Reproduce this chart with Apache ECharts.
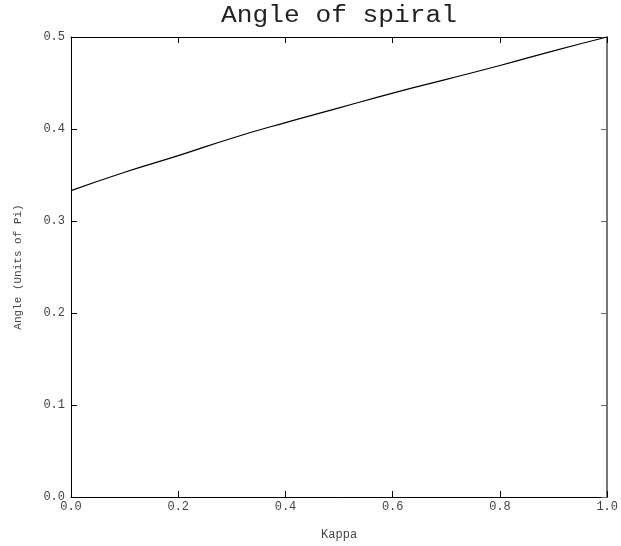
<!DOCTYPE html>
<html>
<head>
<meta charset="utf-8">
<script src="https://cdn.jsdelivr.net/npm/echarts@6/dist/echarts.min.js"></script>
<style>
  html, body { margin: 0; padding: 0; background: #fff; }
  #chart { width: 621px; height: 546px; }
</style>
</head>
<body>
<div id="chart"></div>
<script>
// Spiral angle (in units of pi) as a function of kappa
const kappa = [0.0, 0.1, 0.2, 0.3, 0.4, 0.5, 0.6, 0.7, 0.8, 0.9, 1.0];
const angle = [0.333, 0.353, 0.371, 0.390, 0.407, 0.423, 0.439, 0.454, 0.469, 0.485, 0.500];

const xTicks = ['0.0', '0.2', '0.4', '0.6', '0.8', '1.0'];
const yTicks = ['0.0', '0.1', '0.2', '0.3', '0.4', '0.5'];

const mono = 'Liberation Mono';
const chart = echarts.init(document.getElementById('chart'));

const tickStyle = { show: true, inside: true, length: 6, lineStyle: { color: '#000', width: 1 } };
const labelColor = '#444';

chart.setOption({
  animation: false,
  graphic: [
    {
      // widened title text
      type: 'text',
      x: 339, y: 4,
      scaleX: 1.14,
      style: {
        text: 'Angle of spiral',
        font: '23px "Liberation Mono"',
        fill: '#222',
        textAlign: 'center',
        textVerticalAlign: 'top'
      }
    }
  ],
  grid: { left: 71, right: 10, top: 37, bottom: 45 },
  xAxis: [
    {
      type: 'value', min: 0, max: 1, interval: 0.2, position: 'bottom',
      name: 'Kappa', nameLocation: 'middle', nameGap: 32,
      nameTextStyle: { fontFamily: mono, fontSize: 12, color: labelColor },
      axisLine: { show: true, onZero: false, lineStyle: { color: '#000', width: 1 } },
      axisTick: tickStyle,
      axisLabel: {
        fontFamily: mono, fontSize: 12, color: labelColor, margin: 4,
        formatter: (v) => xTicks[Math.round(v / 0.2)]
      },
      splitLine: { show: false }
    },
    {
      type: 'value', min: 0, max: 1, interval: 0.2, position: 'top',
      axisLine: { show: true, onZero: false, lineStyle: { color: '#000', width: 1 } },
      axisTick: tickStyle,
      axisLabel: { show: false },
      splitLine: { show: false }
    }
  ],
  yAxis: [
    {
      type: 'value', min: 0, max: 0.5, interval: 0.1, position: 'left',
      name: 'Angle (Units of Pi)', nameLocation: 'middle', nameGap: 47, nameRotate: 90,
      nameTextStyle: { fontFamily: mono, fontSize: 11, color: labelColor },
      axisLine: { show: true, onZero: false, lineStyle: { color: '#000', width: 1 } },
      axisTick: tickStyle,
      axisLabel: {
        fontFamily: mono, fontSize: 12, color: labelColor, margin: 6,
        formatter: (v) => yTicks[Math.round(v / 0.1)]
      },
      splitLine: { show: false }
    },
    {
      type: 'value', min: 0, max: 0.5, interval: 0.1, position: 'right',
      axisLine: { show: true, onZero: false, lineStyle: { color: '#777', width: 2 } },
      axisTick: { show: true, inside: true, length: 6, lineStyle: { color: '#666', width: 1 } },
      axisLabel: { show: false },
      splitLine: { show: false }
    }
  ],
  series: [
    {
      type: 'line',
      data: kappa.map((k, i) => [k, angle[i]]),
      xAxisIndex: 0, yAxisIndex: 0,
      showSymbol: false, smooth: true,
      lineStyle: { color: '#000', width: 1.2 }
    }
  ]
});
</script>
</body>
</html>
